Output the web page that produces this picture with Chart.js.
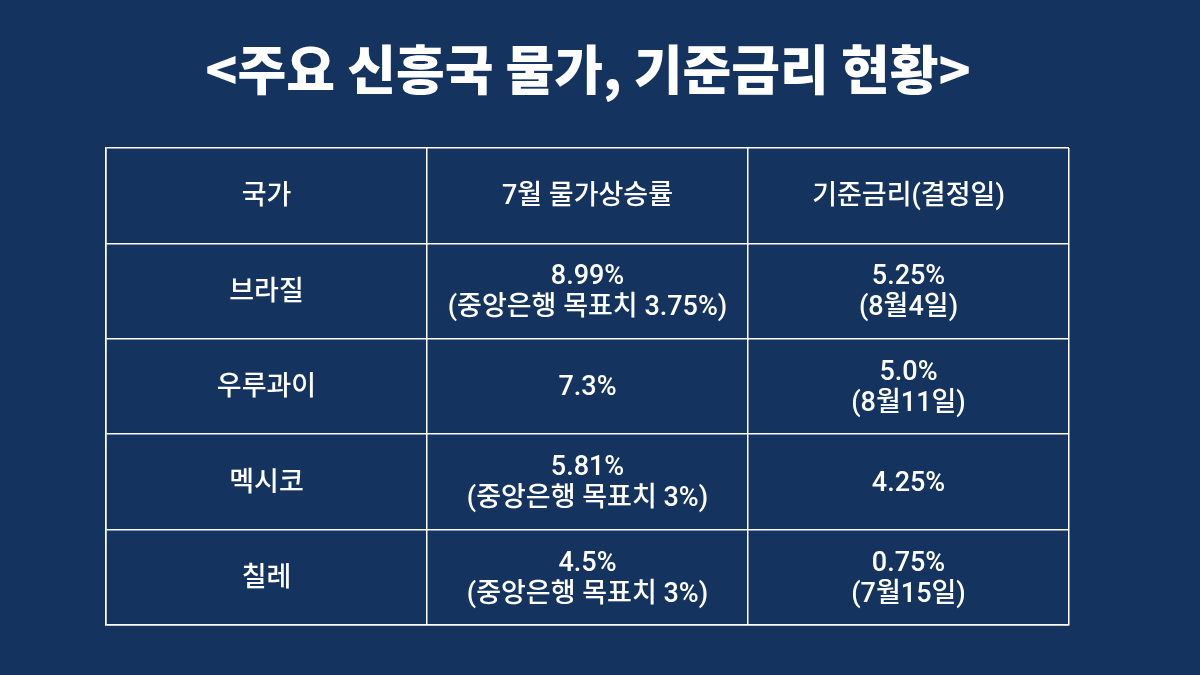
<!DOCTYPE html>
<html><head><meta charset="utf-8">
<script src="https://cdn.jsdelivr.net/npm/chart.js@4"></script>
<style>html,body{margin:0;background:#14335e;}#w{width:1200px;height:675px;position:relative}</style>
</head><body><div id="w"><canvas id="c"></canvas></div>
<script>
const title = "<주요 신흥국 물가, 기준금리 현황>";
const headers = ["국가", "7월 물가상승률", "기준금리(결정일)"];
const countries = ["브라질", "우루과이", "멕시코", "칠레"];
const inflation = ["8.99%\n(중앙은행 목표치 3.75%)", "7.3%", "5.81%\n(중앙은행 목표치 3%)", "4.5%\n(중앙은행 목표치 3%)"];
const rates = ["5.25%\n(8월4일)", "5.0%\n(8월11일)", "4.25%", "0.75%\n(7월15일)"];

const rows = [headers].concat(countries.map((c,i)=>[c, inflation[i], rates[i]]));
const pts = [];
rows.forEach((r,ri)=>r.forEach((t,ci)=>pts.push({x:ci+0.5,y:ri+0.5,t})));

const textPlugin = {
  id:'txt',
  afterDraw(chart){
    const ctx=chart.ctx, xs=chart.scales.x, ys=chart.scales.y;
    ctx.save();
    ctx.fillStyle='#fff';ctx.textAlign='center';ctx.textBaseline='middle';
    ctx.font='900 53px "Noto Sans CJK KR"';
    ctx.fillText(title,588,70);
    ctx.font='500 27px Roboto, "Noto Sans CJK KR"';
    chart.data.datasets[0].data.forEach(p=>{
      const lines=p.t.split('\n');
      const cx=xs.getPixelForValue(p.x), cy=ys.getPixelForValue(p.y)+2;
      lines.forEach((l,i)=>ctx.fillText(l,cx,cy+(i-(lines.length-1)/2)*31));
    });
    ctx.restore();
  }
};
new Chart(document.getElementById('c'),{
  type:'scatter',
  data:{datasets:[{data:pts,pointRadius:0,pointHoverRadius:0}]},
  options:{
    responsive:true,maintainAspectRatio:false,animation:false,
    events:[],
    layout:{padding:{left:106,right:131,top:148,bottom:50}},
    plugins:{legend:{display:false},tooltip:{enabled:false}},
    scales:{
      x:{type:'linear',min:0,max:3,ticks:{display:false,stepSize:1},
         grid:{color:'#ffffff',lineWidth:1.5,drawTicks:false},border:{color:'#fff',width:1.5}},
      y:{type:'linear',min:0,max:5,reverse:true,ticks:{display:false,stepSize:1},
         grid:{color:'#ffffff',lineWidth:1.5,drawTicks:false},border:{color:'#fff',width:1.5}}
    }
  },
  plugins:[textPlugin]
});
</script></body></html>
